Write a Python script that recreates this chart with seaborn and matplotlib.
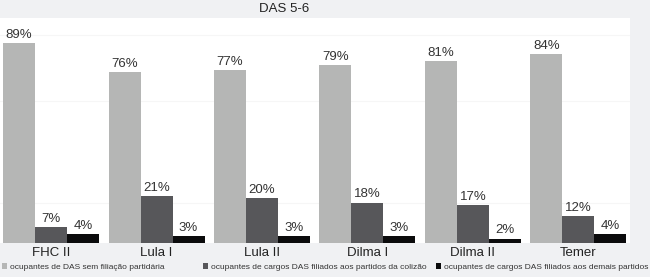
import matplotlib
matplotlib.use("Agg")
import matplotlib.pyplot as plt
import seaborn as sns
import pandas as pd
from matplotlib import font_manager
from matplotlib.patches import Patch

governos = ["FHC II", "Lula I", "Lula II", "Dilma I", "Dilma II", "Temer"]
sem_filiacao = [89, 76, 77, 79, 81, 84]
coalizao = [7, 21, 20, 18, 17, 12]
demais = [4, 3, 3, 3, 2, 4]
series_names = [
    "ocupantes de DAS sem filiação partidária",
    "ocupantes de cargos DAS filiados aos partidos da colizão",
    "ocupantes de cargos DAS filiados aos demais partidos",
]
colors = ["#b5b6b5", "#57575a", "#0b0b0c"]
title = "DAS 5-6"

sns.set_theme(style="white")
names = {f.name for f in font_manager.fontManager.ttflist}
narrow = "Liberation Sans Narrow" in names
fam = "Liberation Sans Narrow" if narrow else "Liberation Sans"
plt.rcParams["font.family"] = [fam, "DejaVu Sans"]

rows = []
for s, vals in zip(series_names, [sem_filiacao, coalizao, demais]):
    for g, v in zip(governos, vals):
        rows.append({"governo": g, "serie": s, "valor": v})
df = pd.DataFrame(rows)

fig = plt.figure(figsize=(6.5, 2.77), dpi=100)
fig.patch.set_facecolor("#f0f1f3")
ax = fig.add_axes([0.0, 1 - 243 / 277, 630 / 650, 225 / 277])
ax.set_facecolor("white")

sns.barplot(data=df, x="governo", y="valor", hue="serie", order=governos,
            hue_order=series_names, palette=colors, width=0.91, ax=ax,
            saturation=1, linewidth=0, legend=False)

for cont in ax.containers:
    ax.bar_label(cont, labels=[f"{int(v)}%" for v in cont.datavalues],
                 padding=1.5, fontsize=9.5, color="#333333")

ax.set_ylim(0, 100)
ax.set_xlim(-0.485, 5.49)
ax.set_yticks([18, 63, 92.5])
ax.yaxis.grid(True, color="#f6f6f6", linewidth=0.8)
ax.set_axisbelow(True)
ax.tick_params(axis="y", left=False, labelleft=False, length=0)
ax.tick_params(axis="x", bottom=False, length=0, labelsize=9.5, pad=3,
               labelcolor="#222222")
ax.set_xlabel("")
ax.set_ylabel("")
for sp in ax.spines.values():
    sp.set_visible(False)

fig.text(284 / 650, 1 - 9 / 277, title, ha="center", va="center",
         fontsize=9.5, color="#222222")

leg_fs = 7.5 if narrow else 6.05
leg_x = [2 / 650, 203 / 650, 436 / 650]
for c, name, x in zip(colors, series_names, leg_x):
    leg = fig.legend([Patch(facecolor=c, edgecolor="none")], [name], loc="center left",
                     bbox_to_anchor=(x, 1 - 267 / 277), frameon=False, fontsize=leg_fs,
                     handlelength=0.6, handleheight=0.6, handletextpad=0.3,
                     labelcolor="#333333", borderpad=0, borderaxespad=0)

fig.savefig("out.png", dpi=100, facecolor=fig.get_facecolor())
